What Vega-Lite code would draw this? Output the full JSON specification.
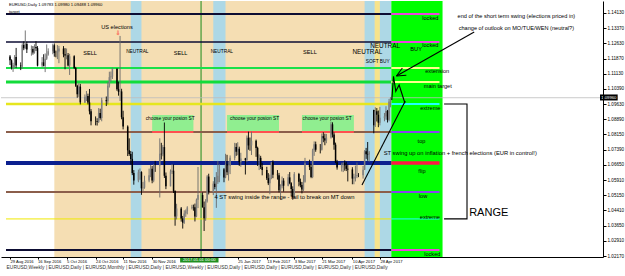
{
"$schema":"https://vega.github.io/schema/vega-lite/v6.json",
"width":602,"height":256,
"autosize":{"type":"none"},
"padding":{"left":1,"top":1,"right":22,"bottom":19},
"background":"#ffffff",
"config":{"font":"Liberation Sans","view":{"stroke":null}},
"title":{"text":"EURUSD,Weekly   |   EURUSD,Daily   |   EURUSD,Monthly   |   EURUSD,Daily   |   EURUSD,Weekly   |   EURUSD,Daily   |   EURUSD,Daily   |   EURUSD,Daily   |   EURUSD,Daily   |   EURUSD,Daily","orient":"bottom","anchor":"start","fontSize":4.9,"fontWeight":"normal","color":"#333333","offset":2,"dx":6},
"resolve":{"scale":{"color":"independent","strokeWidth":"independent"}},
"datasets":{
"zones":[
{"s":"2016-09-27","e":"2017-05-05T12:00Z","z":"tan"},
{"s":"2016-11-16","e":"2016-11-23","z":"neutral"},
{"s":"2017-01-09","e":"2017-01-17","z":"neutral"},
{"s":"2017-04-18","e":"2017-04-24T16:00Z","z":"neutral"},
{"s":"2017-04-24T16:00Z","e":"2017-04-28","z":"soft"},
{"s":"2017-04-28","e":"2017-05-05T12:00Z","z":"neutral"},
{"s":"2017-05-05T12:00Z","e":"2017-06-08","z":"buy"}
],
"vline":[{"d":"2017-01-01"}],
"boxes":[
{"s":"2016-11-30","e":"2016-12-27","t":1.09111,"b":1.08275},
{"s":"2017-01-18","e":"2017-02-21","t":1.09111,"b":1.08275},
{"s":"2017-03-08","e":"2017-04-11","t":1.09111,"b":1.08275}
],
"levels":[
{"s":"2016-08-26T09:00Z","e":"2017-05-05T12:00Z","p":1.14081,"k":"blk2"},
{"s":"2016-08-26T09:00Z","e":"2017-05-05T12:00Z","p":1.12703,"k":"blk1"},
{"s":"2016-08-26T09:00Z","e":"2017-05-05T12:00Z","p":1.11424,"k":"grn2"},
{"s":"2016-08-26T09:00Z","e":"2017-05-05T12:00Z","p":1.10735,"k":"grn3"},
{"s":"2016-08-26T09:00Z","e":"2017-05-05T12:00Z","p":1.09653,"k":"yel2"},
{"s":"2016-08-26T09:00Z","e":"2017-05-05T12:00Z","p":1.08275,"k":"brn"},
{"s":"2016-08-26T09:00Z","e":"2017-05-05T12:00Z","p":1.0675,"k":"navy"},
{"s":"2016-08-26T09:00Z","e":"2017-05-05T12:00Z","p":1.05323,"k":"brn"},
{"s":"2016-08-26T09:00Z","e":"2017-05-05T12:00Z","p":1.03995,"k":"yel1"},
{"s":"2016-08-26T09:00Z","e":"2017-05-05T12:00Z","p":1.0247,"k":"blk2"},
{"s":"2017-05-05T12:00Z","e":"2017-06-06","p":1.14081,"k":"mag"},
{"s":"2017-05-05T12:00Z","e":"2017-06-06","p":1.12703,"k":"mag"},
{"s":"2017-05-05T12:00Z","e":"2017-06-06","p":1.11424,"k":"lyel"},
{"s":"2017-05-05T12:00Z","e":"2017-06-06","p":1.10735,"k":"lyel"},
{"s":"2017-05-05T12:00Z","e":"2017-06-06","p":1.09653,"k":"cyan"},
{"s":"2017-05-05T12:00Z","e":"2017-06-06","p":1.08275,"k":"purp"},
{"s":"2017-05-05T12:00Z","e":"2017-06-06","p":1.0675,"k":"red"},
{"s":"2017-05-05T12:00Z","e":"2017-06-06","p":1.05323,"k":"purp"},
{"s":"2017-05-05T12:00Z","e":"2017-06-06","p":1.03995,"k":"cyan1"},
{"s":"2017-05-05T12:00Z","e":"2017-06-06","p":1.0247,"k":"mag"}
],
"cur":[{"p":1.0996}],
"cdl":[
{"d":"2016-08-29","o":1.1199,"h":1.1206,"l":1.1157,"c":1.118},
{"d":"2016-08-30","o":1.118,"h":1.1185,"l":1.1135,"c":1.1145},
{"d":"2016-08-31","o":1.1145,"h":1.1168,"l":1.1123,"c":1.1157},
{"d":"2016-09-01","o":1.1157,"h":1.1206,"l":1.1144,"c":1.1196},
{"d":"2016-09-02","o":1.1196,"h":1.1241,"l":1.1143,"c":1.1155},
{"d":"2016-09-05","o":1.1155,"h":1.117,"l":1.1132,"c":1.115},
{"d":"2016-09-06","o":1.115,"h":1.1264,"l":1.1138,"c":1.1256},
{"d":"2016-09-07","o":1.1256,"h":1.1273,"l":1.123,"c":1.124},
{"d":"2016-09-08","o":1.124,"h":1.1327,"l":1.1235,"c":1.126},
{"d":"2016-09-09","o":1.126,"h":1.1271,"l":1.1216,"c":1.1233},
{"d":"2016-09-12","o":1.1233,"h":1.1253,"l":1.1203,"c":1.1236},
{"d":"2016-09-13","o":1.1236,"h":1.125,"l":1.1208,"c":1.1218},
{"d":"2016-09-14","o":1.1218,"h":1.1259,"l":1.1213,"c":1.1246},
{"d":"2016-09-15","o":1.1246,"h":1.1274,"l":1.1226,"c":1.124},
{"d":"2016-09-16","o":1.124,"h":1.125,"l":1.115,"c":1.1154},
{"d":"2016-09-19","o":1.1154,"h":1.1196,"l":1.1145,"c":1.117},
{"d":"2016-09-20","o":1.117,"h":1.121,"l":1.115,"c":1.1153},
{"d":"2016-09-21","o":1.1153,"h":1.1214,"l":1.1122,"c":1.1188},
{"d":"2016-09-22","o":1.1188,"h":1.1258,"l":1.1182,"c":1.1209},
{"d":"2016-09-23","o":1.1209,"h":1.1239,"l":1.1203,"c":1.1225},
{"d":"2016-09-26","o":1.1225,"h":1.1262,"l":1.121,"c":1.1254},
{"d":"2016-09-27","o":1.1254,"h":1.1263,"l":1.1198,"c":1.1216},
{"d":"2016-09-28","o":1.1216,"h":1.1228,"l":1.1195,"c":1.1216},
{"d":"2016-09-29","o":1.1216,"h":1.1255,"l":1.1186,"c":1.1223},
{"d":"2016-09-30","o":1.1223,"h":1.1251,"l":1.1166,"c":1.1238},
{"d":"2016-10-03","o":1.1238,"h":1.125,"l":1.1195,"c":1.121},
{"d":"2016-10-04","o":1.121,"h":1.124,"l":1.1136,"c":1.1204},
{"d":"2016-10-05","o":1.1204,"h":1.1238,"l":1.1185,"c":1.1205},
{"d":"2016-10-06","o":1.1205,"h":1.1216,"l":1.115,"c":1.1155},
{"d":"2016-10-07","o":1.1155,"h":1.1212,"l":1.1108,"c":1.12},
{"d":"2016-10-10","o":1.12,"h":1.1205,"l":1.1137,"c":1.1142},
{"d":"2016-10-11","o":1.1142,"h":1.1148,"l":1.1049,"c":1.1055},
{"d":"2016-10-12","o":1.1055,"h":1.106,"l":1.0996,"c":1.1013},
{"d":"2016-10-13","o":1.1013,"h":1.1067,"l":1.1,"c":1.1051},
{"d":"2016-10-14","o":1.1051,"h":1.1064,"l":1.0963,"c":1.0973},
{"d":"2016-10-17","o":1.0973,"h":1.1012,"l":1.097,"c":1.0999},
{"d":"2016-10-18","o":1.0999,"h":1.1029,"l":1.098,"c":1.1005},
{"d":"2016-10-19","o":1.1005,"h":1.1016,"l":1.0963,"c":1.0973},
{"d":"2016-10-20","o":1.0973,"h":1.1039,"l":1.0914,"c":1.0929},
{"d":"2016-10-21","o":1.0929,"h":1.094,"l":1.086,"c":1.088},
{"d":"2016-10-24","o":1.088,"h":1.0904,"l":1.086,"c":1.088},
{"d":"2016-10-25","o":1.088,"h":1.0895,"l":1.0859,"c":1.0877},
{"d":"2016-10-26","o":1.0877,"h":1.0945,"l":1.0872,"c":1.0921},
{"d":"2016-10-27","o":1.0921,"h":1.0942,"l":1.0888,"c":1.0896},
{"d":"2016-10-28","o":1.0896,"h":1.0996,"l":1.088,"c":1.0984},
{"d":"2016-10-31","o":1.0984,"h":1.1002,"l":1.0955,"c":1.0979},
{"d":"2016-11-01","o":1.0979,"h":1.1073,"l":1.0963,"c":1.1055},
{"d":"2016-11-02","o":1.1055,"h":1.1124,"l":1.1046,"c":1.1097},
{"d":"2016-11-03","o":1.1097,"h":1.1125,"l":1.1075,"c":1.11},
{"d":"2016-11-04","o":1.11,"h":1.1143,"l":1.1088,"c":1.1138},
{"d":"2016-11-07","o":1.1138,"h":1.114,"l":1.103,"c":1.1038},
{"d":"2016-11-08","o":1.1038,"h":1.1075,"l":1.1006,"c":1.1025},
{"d":"2016-11-09","o":1.1025,"h":1.13,"l":1.098,"c":1.1027},
{"d":"2016-11-10","o":1.1027,"h":1.104,"l":1.089,"c":1.09},
{"d":"2016-11-11","o":1.09,"h":1.0932,"l":1.084,"c":1.0854},
{"d":"2016-11-14","o":1.0854,"h":1.086,"l":1.0709,"c":1.0737},
{"d":"2016-11-15","o":1.0737,"h":1.0796,"l":1.071,"c":1.0719},
{"d":"2016-11-16","o":1.0719,"h":1.0734,"l":1.0667,"c":1.0695},
{"d":"2016-11-17","o":1.0695,"h":1.073,"l":1.0615,"c":1.0625},
{"d":"2016-11-18","o":1.0625,"h":1.064,"l":1.0568,"c":1.0588},
{"d":"2016-11-21","o":1.0588,"h":1.0642,"l":1.058,"c":1.0629},
{"d":"2016-11-22","o":1.0629,"h":1.0648,"l":1.0592,"c":1.063},
{"d":"2016-11-23","o":1.063,"h":1.0634,"l":1.0518,"c":1.055},
{"d":"2016-11-24","o":1.055,"h":1.0581,"l":1.0535,"c":1.0554},
{"d":"2016-11-25","o":1.0554,"h":1.0612,"l":1.0548,"c":1.0588},
{"d":"2016-11-28","o":1.0588,"h":1.0647,"l":1.058,"c":1.0615},
{"d":"2016-11-29","o":1.0615,"h":1.0665,"l":1.0605,"c":1.0647},
{"d":"2016-11-30","o":1.0647,"h":1.066,"l":1.0575,"c":1.0588},
{"d":"2016-12-01","o":1.0588,"h":1.067,"l":1.058,"c":1.0663},
{"d":"2016-12-02","o":1.0663,"h":1.0685,"l":1.0631,"c":1.0663},
{"d":"2016-12-05","o":1.0663,"h":1.0796,"l":1.0505,"c":1.072},
{"d":"2016-12-06","o":1.072,"h":1.0774,"l":1.0692,"c":1.0718},
{"d":"2016-12-07","o":1.0718,"h":1.0763,"l":1.0708,"c":1.0753},
{"d":"2016-12-08","o":1.0753,"h":1.0874,"l":1.0601,"c":1.0612},
{"d":"2016-12-09","o":1.0612,"h":1.0628,"l":1.0546,"c":1.056},
{"d":"2016-12-12","o":1.056,"h":1.0643,"l":1.056,"c":1.0633},
{"d":"2016-12-13","o":1.0633,"h":1.067,"l":1.0621,"c":1.0637},
{"d":"2016-12-14","o":1.0637,"h":1.0667,"l":1.0527,"c":1.0537},
{"d":"2016-12-15","o":1.0537,"h":1.054,"l":1.0366,"c":1.0412},
{"d":"2016-12-16","o":1.0412,"h":1.0474,"l":1.0397,"c":1.0451},
{"d":"2016-12-19","o":1.0451,"h":1.0458,"l":1.0386,"c":1.0402},
{"d":"2016-12-20","o":1.0402,"h":1.0414,"l":1.0352,"c":1.0381},
{"d":"2016-12-21","o":1.0381,"h":1.0442,"l":1.0375,"c":1.0426},
{"d":"2016-12-22","o":1.0426,"h":1.0446,"l":1.041,"c":1.0437},
{"d":"2016-12-23","o":1.0437,"h":1.0462,"l":1.0422,"c":1.0456},
{"d":"2016-12-26","o":1.0456,"h":1.0469,"l":1.0446,"c":1.0458},
{"d":"2016-12-27","o":1.0458,"h":1.047,"l":1.044,"c":1.0457},
{"d":"2016-12-28","o":1.0457,"h":1.0475,"l":1.0387,"c":1.0412},
{"d":"2016-12-29","o":1.0412,"h":1.05,"l":1.0408,"c":1.0494},
{"d":"2016-12-30","o":1.0494,"h":1.0655,"l":1.0453,"c":1.0517},
{"d":"2017-01-02","o":1.0517,"h":1.053,"l":1.0455,"c":1.0457},
{"d":"2017-01-03","o":1.0457,"h":1.0485,"l":1.034,"c":1.0403},
{"d":"2017-01-04","o":1.0403,"h":1.0497,"l":1.039,"c":1.0487},
{"d":"2017-01-05","o":1.0487,"h":1.0615,"l":1.048,"c":1.0608},
{"d":"2017-01-06","o":1.0608,"h":1.0622,"l":1.052,"c":1.0532},
{"d":"2017-01-09","o":1.0532,"h":1.0585,"l":1.0517,"c":1.0573},
{"d":"2017-01-10","o":1.0573,"h":1.0605,"l":1.0545,"c":1.0557},
{"d":"2017-01-11","o":1.0557,"h":1.063,"l":1.0454,"c":1.0581},
{"d":"2017-01-12","o":1.0581,"h":1.0685,"l":1.0572,"c":1.0612},
{"d":"2017-01-13","o":1.0612,"h":1.0668,"l":1.058,"c":1.0644},
{"d":"2017-01-16","o":1.0644,"h":1.065,"l":1.058,"c":1.0603},
{"d":"2017-01-17","o":1.0603,"h":1.072,"l":1.06,"c":1.0668},
{"d":"2017-01-18","o":1.0668,"h":1.0715,"l":1.0615,"c":1.0629},
{"d":"2017-01-19","o":1.0629,"h":1.0683,"l":1.0588,"c":1.066},
{"d":"2017-01-20","o":1.066,"h":1.0712,"l":1.062,"c":1.07},
{"d":"2017-01-23","o":1.07,"h":1.0774,"l":1.0688,"c":1.0753},
{"d":"2017-01-24","o":1.0753,"h":1.0772,"l":1.071,"c":1.073},
{"d":"2017-01-25","o":1.073,"h":1.0777,"l":1.0713,"c":1.0745},
{"d":"2017-01-26","o":1.0745,"h":1.0755,"l":1.066,"c":1.0679},
{"d":"2017-01-27","o":1.0679,"h":1.0725,"l":1.0656,"c":1.0697},
{"d":"2017-01-30","o":1.0697,"h":1.07,"l":1.0618,"c":1.069},
{"d":"2017-01-31","o":1.069,"h":1.081,"l":1.068,"c":1.0799},
{"d":"2017-02-01","o":1.0799,"h":1.0829,"l":1.074,"c":1.0761},
{"d":"2017-02-02","o":1.0761,"h":1.08,"l":1.0735,"c":1.0761},
{"d":"2017-02-03","o":1.0761,"h":1.0829,"l":1.0714,"c":1.0784},
{"d":"2017-02-06","o":1.0784,"h":1.079,"l":1.0705,"c":1.0749},
{"d":"2017-02-07","o":1.0749,"h":1.0755,"l":1.066,"c":1.0687},
{"d":"2017-02-08","o":1.0687,"h":1.0717,"l":1.064,"c":1.07},
{"d":"2017-02-09","o":1.07,"h":1.071,"l":1.0645,"c":1.0655},
{"d":"2017-02-10","o":1.0655,"h":1.0675,"l":1.0614,"c":1.064},
{"d":"2017-02-13","o":1.064,"h":1.0656,"l":1.0591,"c":1.06},
{"d":"2017-02-14","o":1.06,"h":1.0625,"l":1.0566,"c":1.0575},
{"d":"2017-02-15","o":1.0575,"h":1.0618,"l":1.0521,"c":1.0602},
{"d":"2017-02-16","o":1.0602,"h":1.0679,"l":1.0595,"c":1.0678},
{"d":"2017-02-17","o":1.0678,"h":1.0688,"l":1.06,"c":1.0617},
{"d":"2017-02-20","o":1.0617,"h":1.064,"l":1.0593,"c":1.0615},
{"d":"2017-02-21","o":1.0615,"h":1.0626,"l":1.053,"c":1.0541},
{"d":"2017-02-22","o":1.0541,"h":1.057,"l":1.0494,"c":1.056},
{"d":"2017-02-23","o":1.056,"h":1.0608,"l":1.055,"c":1.0588},
{"d":"2017-02-24","o":1.0588,"h":1.06,"l":1.0534,"c":1.0563},
{"d":"2017-02-27","o":1.0563,"h":1.062,"l":1.056,"c":1.0604},
{"d":"2017-02-28","o":1.0604,"h":1.063,"l":1.057,"c":1.0575},
{"d":"2017-03-01","o":1.0575,"h":1.058,"l":1.051,"c":1.0547},
{"d":"2017-03-02","o":1.0547,"h":1.056,"l":1.0494,"c":1.0505},
{"d":"2017-03-03","o":1.0505,"h":1.063,"l":1.05,"c":1.062},
{"d":"2017-03-06","o":1.062,"h":1.0626,"l":1.056,"c":1.0583},
{"d":"2017-03-07","o":1.0583,"h":1.0598,"l":1.0555,"c":1.0566},
{"d":"2017-03-08","o":1.0566,"h":1.0581,"l":1.0525,"c":1.0544},
{"d":"2017-03-09","o":1.0544,"h":1.0615,"l":1.0535,"c":1.0582},
{"d":"2017-03-10","o":1.0582,"h":1.07,"l":1.0578,"c":1.0673},
{"d":"2017-03-13","o":1.0673,"h":1.0691,"l":1.064,"c":1.0655},
{"d":"2017-03-14","o":1.0655,"h":1.0669,"l":1.06,"c":1.0606},
{"d":"2017-03-15","o":1.0606,"h":1.0745,"l":1.06,"c":1.0737},
{"d":"2017-03-16","o":1.0737,"h":1.0781,"l":1.071,"c":1.0767},
{"d":"2017-03-17","o":1.0767,"h":1.078,"l":1.073,"c":1.074},
{"d":"2017-03-20","o":1.074,"h":1.0768,"l":1.0722,"c":1.074},
{"d":"2017-03-21","o":1.074,"h":1.082,"l":1.0736,"c":1.0807},
{"d":"2017-03-22","o":1.0807,"h":1.0826,"l":1.0777,"c":1.0796},
{"d":"2017-03-23","o":1.0796,"h":1.0819,"l":1.0762,"c":1.0785},
{"d":"2017-03-24","o":1.0785,"h":1.0818,"l":1.0772,"c":1.08},
{"d":"2017-03-27","o":1.08,"h":1.0878,"l":1.0795,"c":1.0865},
{"d":"2017-03-28","o":1.0865,"h":1.0875,"l":1.08,"c":1.0815},
{"d":"2017-03-29","o":1.0815,"h":1.0825,"l":1.074,"c":1.0765},
{"d":"2017-03-30","o":1.0765,"h":1.0775,"l":1.0674,"c":1.0678},
{"d":"2017-03-31","o":1.0678,"h":1.069,"l":1.0642,"c":1.0652},
{"d":"2017-04-03","o":1.0652,"h":1.0676,"l":1.0633,"c":1.0667},
{"d":"2017-04-04","o":1.0667,"h":1.068,"l":1.063,"c":1.0674},
{"d":"2017-04-05","o":1.0674,"h":1.0688,"l":1.0637,"c":1.0663},
{"d":"2017-04-06","o":1.0663,"h":1.0681,"l":1.0635,"c":1.0646},
{"d":"2017-04-07","o":1.0646,"h":1.0668,"l":1.0584,"c":1.0643},
{"d":"2017-04-10","o":1.0643,"h":1.0654,"l":1.057,"c":1.0598},
{"d":"2017-04-11","o":1.0598,"h":1.0622,"l":1.057,"c":1.0606},
{"d":"2017-04-12","o":1.0606,"h":1.0662,"l":1.0584,"c":1.0611},
{"d":"2017-04-13","o":1.0611,"h":1.0677,"l":1.06,"c":1.0615},
{"d":"2017-04-14","o":1.0615,"h":1.0625,"l":1.0605,"c":1.0615},
{"d":"2017-04-17","o":1.0615,"h":1.066,"l":1.0598,"c":1.0642},
{"d":"2017-04-18","o":1.0642,"h":1.0738,"l":1.064,"c":1.0732},
{"d":"2017-04-19","o":1.0732,"h":1.0749,"l":1.0695,"c":1.0718},
{"d":"2017-04-20","o":1.0718,"h":1.0778,"l":1.0686,"c":1.0716},
{"d":"2017-04-21","o":1.0716,"h":1.0734,"l":1.0681,"c":1.0726},
{"d":"2017-04-24","o":1.0935,"h":1.0937,"l":1.0821,"c":1.0861},
{"d":"2017-04-25","o":1.0861,"h":1.0949,"l":1.0852,"c":1.0929},
{"d":"2017-04-26","o":1.0929,"h":1.0945,"l":1.0879,"c":1.0912},
{"d":"2017-04-27","o":1.0912,"h":1.0933,"l":1.0851,"c":1.0873},
{"d":"2017-04-28","o":1.0873,"h":1.0951,"l":1.086,"c":1.0897},
{"d":"2017-05-01","o":1.0897,"h":1.0921,"l":1.088,"c":1.0904},
{"d":"2017-05-02","o":1.0904,"h":1.0954,"l":1.0888,"c":1.0931},
{"d":"2017-05-03","o":1.0931,"h":1.0936,"l":1.0874,"c":1.0887},
{"d":"2017-05-04","o":1.0887,"h":1.099,"l":1.088,"c":1.0978},
{"d":"2017-05-05","o":1.09783,"h":1.0998,"l":1.09488,"c":1.0996}
],
"ann":[
{"g":"a","i":0,"d":"2017-06-28T17:00Z","p":1.13195},
{"g":"a","i":1,"d":"2017-05-08T20:00Z","p":1.1103},
{"g":"h1","i":0,"d":"2017-05-08T20:00Z","p":1.1103},
{"g":"h1","i":1,"d":"2017-05-15T07:00Z","p":1.11065},
{"g":"h2","i":0,"d":"2017-05-08T20:00Z","p":1.1103},
{"g":"h2","i":1,"d":"2017-05-12T17:00Z","p":1.11424},
{"g":"s","i":0,"d":"2017-04-16T07:00Z","p":1.05667},
{"g":"s","i":1,"d":"2017-05-14T14:00Z","p":1.098},
{"g":"z","i":0,"d":"2017-05-05T19:00Z","p":1.09849},
{"g":"z","i":1,"d":"2017-05-06T22:00Z","p":1.11015},
{"g":"z","i":2,"d":"2017-05-08T10:00Z","p":1.10278},
{"g":"z","i":3,"d":"2017-05-10T14:00Z","p":1.10588},
{"g":"z","i":4,"d":"2017-05-14T10:00Z","p":1.09687},
{"g":"r","i":0,"d":"2017-06-09","p":1.09653},
{"g":"r","i":1,"d":"2017-06-24","p":1.09653},
{"g":"r","i":2,"d":"2017-06-24","p":1.03995},
{"g":"r","i":3,"d":"2017-06-09","p":1.03995}
],
"lbl":[
{"r":"hdr","d":"2016-08-28T07:00Z","p":1.14509,"t":"EURUSD,Daily  1.09783 1.09980 1.09488 1.09960"},
{"r":"hdr","d":"2016-08-28T07:00Z","p":1.14179,"t":"target"},
{"r":"c55","d":"2016-11-07","p":1.13441,"t":"US elections"},
{"r":"arrow","d":"2016-11-07T17:00Z","p":1.13146,"t":"⇩"},
{"r":"c55","d":"2016-10-20T10:00Z","p":1.12162,"t":"SELL"},
{"r":"c5","d":"2016-11-20T07:00Z","p":1.12211,"t":"NEUTRAL"},
{"r":"c55","d":"2016-12-18T14:00Z","p":1.12162,"t":"SELL"},
{"r":"c5","d":"2017-01-14T14:00Z","p":1.12211,"t":"NEUTRAL"},
{"r":"c55","d":"2017-03-13T05:00Z","p":1.12211,"t":"SELL"},
{"r":"c65","d":"2017-04-19T19:00Z","p":1.12211,"t":"NEUTRAL"},
{"r":"c65","d":"2017-05-01T10:00Z","p":1.12506,"t":"NEUTRAL"},
{"r":"c5","d":"2017-04-26T14:00Z","p":1.11719,"t":"SOFT BUY"},
{"r":"c55","d":"2017-05-21T17:00Z","p":1.12359,"t":"BUY"},
{"r":"c5","d":"2016-12-11T19:00Z","p":1.08915,"t":"choose your posion ST"},
{"r":"c5","d":"2017-02-05","p":1.08915,"t":"choose your posion ST"},
{"r":"c5","d":"2017-03-24T12:00Z","p":1.08915,"t":"choose your posion ST"},
{"r":"c55","d":"2017-05-31","p":1.13884,"t":"locked"},
{"r":"c55","d":"2017-05-31","p":1.12556,"t":"locked"},
{"r":"c55","d":"2017-06-04T12:00Z","p":1.11276,"t":"extension"},
{"r":"c55","d":"2017-06-04T21:00Z","p":1.10538,"t":"main target"},
{"r":"c55","d":"2017-05-31","p":1.09432,"t":"extreme"},
{"r":"c55","d":"2017-05-25T05:00Z","p":1.07832,"t":"top"},
{"r":"c55","d":"2017-05-25T12:00Z","p":1.06356,"t":"flip"},
{"r":"c55","d":"2017-05-26T05:00Z","p":1.05126,"t":"low"},
{"r":"c55","d":"2017-05-30T17:00Z","p":1.04114,"t":"extreme"},
{"r":"c55","d":"2017-06-01T07:00Z","p":1.02273,"t":"locked"},
{"r":"c55","d":"2017-07-26T07:00Z","p":1.13982,"t":"end of the short term swing (elections priced in)"},
{"r":"c55","d":"2017-07-26T07:00Z","p":1.13392,"t":"change of outlook on MO/TUE/WEN (neutral?)"},
{"r":"l55","d":"2017-01-09T19:00Z","p":1.05077,"t":"4 ST swing inside the range - fail to break on MT down"},
{"r":"l55","d":"2017-04-30T12:00Z","p":1.07242,"t":"ST swing up on inflation + french elections (EUR in control!)"},
{"r":"range","d":"2017-06-25T10:00Z","p":1.0429,"t":"RANGE"}
],
"tags":[
{"k":"price","s":"2017-09-19","e":"2017-09-30T14:00Z","t":1.1012,"b":1.09825,"m":"2017-09-24T19:00Z","p":1.0996,"txt":"1.09960"},
{"k":"cursor","s":"2016-12-18T07:00Z","e":"2017-01-12T10:00Z","t":1.02101,"b":1.01855,"m":"2016-12-30T20:00Z","p":1.01978,"txt":"2017.01.01 00:00"}
]
},
"layer":[
{"data":{"name":"zones"},"mark":{"type":"rect"},
 "encoding":{
  "x":{"field":"s","type":"temporal","title":null,
   "scale":{"type":"utc","domain":[{"year":2016,"month":8,"date":26,"hours":9,"utc":true},{"year":2017,"month":9,"date":17,"hours":17,"utc":true}]},
   "axis":{"values":[
     {"year":2016,"month":8,"date":29,"utc":true},{"year":2016,"month":9,"date":16,"utc":true},{"year":2016,"month":10,"date":5,"utc":true},{"year":2016,"month":10,"date":24,"utc":true},{"year":2016,"month":11,"date":11,"utc":true},{"year":2016,"month":11,"date":30,"utc":true},{"year":2017,"month":1,"date":25,"utc":true},{"year":2017,"month":2,"date":13,"utc":true},{"year":2017,"month":3,"date":3,"utc":true},{"year":2017,"month":3,"date":21,"utc":true},{"year":2017,"month":4,"date":10,"utc":true},{"year":2017,"month":4,"date":28,"utc":true}],
    "tickCount":30,"format":"%-d %b %Y","labelAlign":"left","labelBaseline":"top","labelFontSize":4.1,"labelPadding":0,"tickSize":2,"tickColor":"#000000","domainColor":"#000000","labelColor":"#000000","labelFlush":false,"labelOverlap":false,"zindex":1,"grid":false}},
  "x2":{"field":"e"},
  "color":{"field":"z","type":"nominal","scale":{"domain":["tan","neutral","soft","buy"],"range":["#f5deb3","#add8e6","#f7e38c","#00ff00"]},"legend":null}}},
{"data":{"name":"vline"},"mark":{"type":"rule","color":"#1a8a1a","strokeWidth":1},
 "encoding":{"x":{"field":"d","type":"temporal","title":null}}},
{"data":{"name":"boxes"},"mark":{"type":"rect","color":"#90ee90"},
 "encoding":{"x":{"field":"s","type":"temporal","title":null},"x2":{"field":"e"},
  "y":{"field":"t","type":"quantitative","title":null,
   "scale":{"domain":[1.02121,1.1472],"zero":false,"nice":false},
   "axis":{"orient":"right","tickCount":40,"values":[1.1413,1.1337,1.1263,1.1187,1.1113,1.1039,1.0963,1.0889,1.0815,1.0739,1.0665,1.0591,1.0515,1.0441,1.0365,1.0291,1.0217],"format":".5f","labelFontSize":4.6,"tickSize":3,"labelPadding":1,"tickColor":"#000000","domainColor":"#000000","labelColor":"#000000","zindex":1,"grid":false,"labelFlush":false,"labelOverlap":false}},
  "y2":{"field":"b"}}},
{"data":{"name":"levels"},"mark":{"type":"rule"},
 "encoding":{
  "x":{"field":"s","type":"temporal","title":null},"x2":{"field":"e"},
  "y":{"field":"p","type":"quantitative","title":null},
  "color":{"field":"k","type":"nominal","legend":null,"scale":{"domain":["blk2","blk1","grn2","grn3","yel2","brn","navy","yel1","mag","lyel","cyan","purp","red","cyan1"],"range":["#0d0d33","#0d0d33","#19e04a","#12dc3a","#e6e61e","#8b5e4b","#0b1f8f","#f0e800","#ee44dd","#ffff8c","#22ffff","#8844ee","#ff1744","#22ffff"]}},
  "strokeWidth":{"field":"k","type":"nominal","legend":null,"scale":{"type":"ordinal","domain":["blk2","blk1","grn2","grn3","yel2","brn","navy","yel1","mag","lyel","cyan","purp","red","cyan1"],"range":[2,1.5,2,3,2.5,2,4,1,2,2,2,2,3.5,1]}}}},
{"data":{"name":"boxes"},"mark":{"type":"rule","color":"#ff5050","strokeWidth":2},
 "encoding":{"x":{"field":"s","type":"temporal","title":null},"x2":{"field":"e"},"y":{"field":"b","type":"quantitative","title":null}}},
{"data":{"name":"cur"},"mark":{"type":"rule","color":"#bdbdbd","strokeWidth":0.8},
 "encoding":{"y":{"field":"p","type":"quantitative","title":null}}},
{"data":{"name":"cdl"},"mark":{"type":"rule","strokeWidth":0.9},
 "encoding":{"x":{"field":"d","type":"temporal","title":null},"y":{"field":"l","type":"quantitative","title":null},"y2":{"field":"h"},
  "color":{"condition":{"test":"datum.c > datum.o","value":"#6a6a6a"},"value":"#000000"}}},
{"data":{"name":"cdl"},"mark":{"type":"bar","width":1.5},
 "encoding":{"x":{"field":"d","type":"temporal","title":null},"y":{"field":"o","type":"quantitative","title":null},"y2":{"field":"c"},
  "color":{"condition":{"test":"datum.c > datum.o","value":"#808080"},"value":"#000000"}}},
{"data":{"name":"ann"},"mark":{"type":"line","color":"#000000","strokeWidth":1.1},
 "encoding":{"x":{"field":"d","type":"temporal","title":null},"y":{"field":"p","type":"quantitative","title":null},"detail":{"field":"g"},"order":{"field":"i","type":"quantitative"}}},
{"data":{"name":"lbl"},"transform":[{"filter":"datum.r === 'hdr'"}],"mark":{"type":"text","fontSize":4.2,"align":"left","baseline":"middle","color":"#000000"},
 "encoding":{"x":{"field":"d","type":"temporal","title":null},"y":{"field":"p","type":"quantitative","title":null},"text":{"field":"t"}}},
{"data":{"name":"lbl"},"transform":[{"filter":"datum.r === 'c5'"}],"mark":{"type":"text","fontSize":4.8,"align":"center","baseline":"middle","color":"#000000"},
 "encoding":{"x":{"field":"d","type":"temporal","title":null},"y":{"field":"p","type":"quantitative","title":null},"text":{"field":"t"}}},
{"data":{"name":"lbl"},"transform":[{"filter":"datum.r === 'c55'"}],"mark":{"type":"text","fontSize":5.6,"align":"center","baseline":"middle","color":"#000000"},
 "encoding":{"x":{"field":"d","type":"temporal","title":null},"y":{"field":"p","type":"quantitative","title":null},"text":{"field":"t"}}},
{"data":{"name":"lbl"},"transform":[{"filter":"datum.r === 'c65'"}],"mark":{"type":"text","fontSize":6.4,"align":"center","baseline":"middle","color":"#000000"},
 "encoding":{"x":{"field":"d","type":"temporal","title":null},"y":{"field":"p","type":"quantitative","title":null},"text":{"field":"t"}}},
{"data":{"name":"lbl"},"transform":[{"filter":"datum.r === 'l55'"}],"mark":{"type":"text","fontSize":5.8,"align":"left","baseline":"middle","color":"#000000"},
 "encoding":{"x":{"field":"d","type":"temporal","title":null},"y":{"field":"p","type":"quantitative","title":null},"text":{"field":"t"}}},
{"data":{"name":"lbl"},"transform":[{"filter":"datum.r === 'range'"}],"mark":{"type":"text","fontSize":11,"align":"left","baseline":"middle","color":"#000000"},
 "encoding":{"x":{"field":"d","type":"temporal","title":null},"y":{"field":"p","type":"quantitative","title":null},"text":{"field":"t"}}},
{"data":{"name":"lbl"},"transform":[{"filter":"datum.r === 'arrow'"}],"mark":{"type":"text","fontSize":6,"font":"DejaVu Sans","align":"center","baseline":"middle","color":"#ff0000"},
 "encoding":{"x":{"field":"d","type":"temporal","title":null},"y":{"field":"p","type":"quantitative","title":null},"text":{"field":"t"}}},
{"data":{"name":"tags"},"mark":{"type":"rect"},
 "encoding":{"x":{"field":"s","type":"temporal","title":null},"x2":{"field":"e"},"y":{"field":"t","type":"quantitative","title":null},"y2":{"field":"b"},
  "color":{"field":"k","type":"nominal","legend":null,"scale":{"domain":["price","cursor"],"range":["#000000","#1f8f1f"]}}}},
{"data":{"name":"tags"},"mark":{"type":"text","fontSize":4.2,"align":"center","baseline":"middle","color":"#ffffff"},
 "encoding":{"x":{"field":"m","type":"temporal","title":null},"y":{"field":"p","type":"quantitative","title":null},"text":{"field":"txt"}}}
]
}
